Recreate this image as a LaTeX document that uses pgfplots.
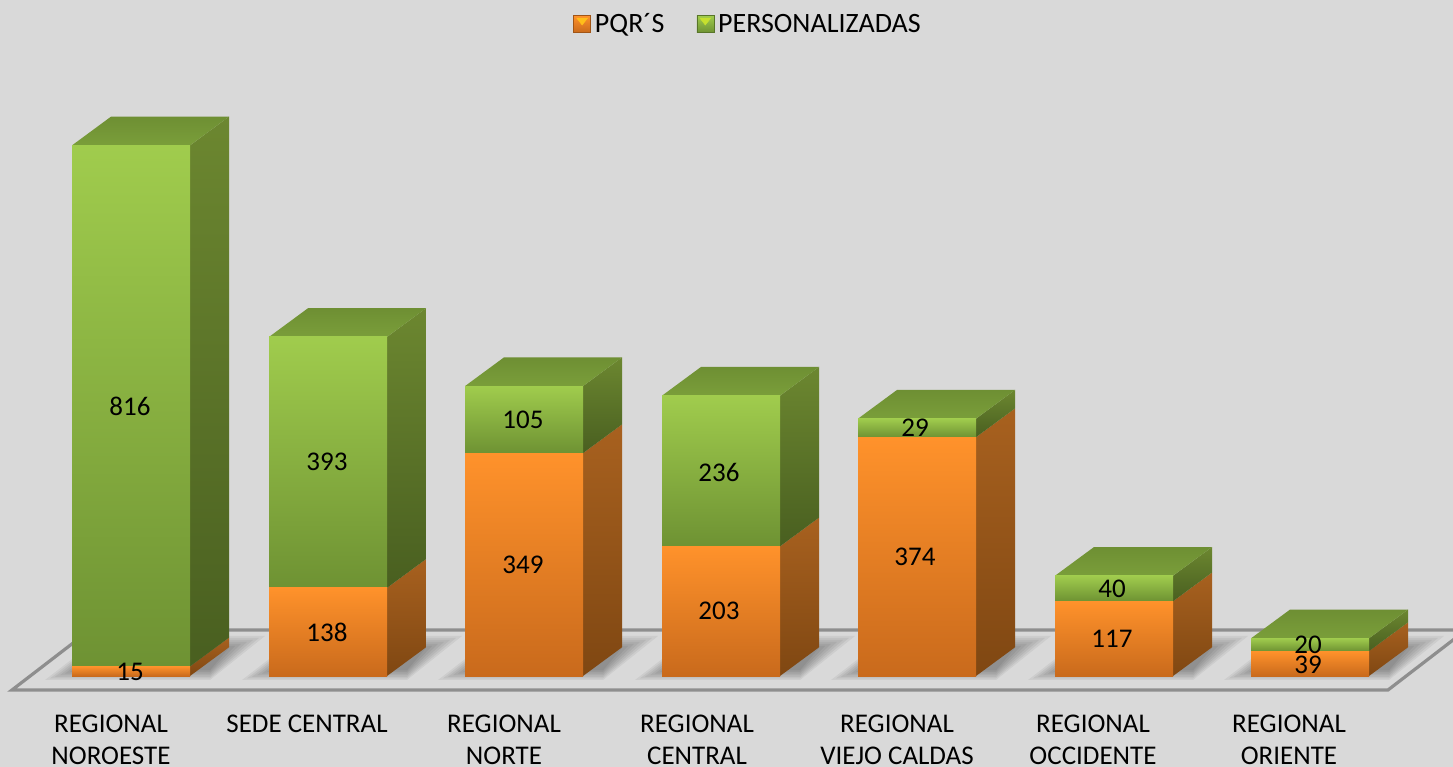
\documentclass[border=0pt]{standalone}
\usepackage{fontspec}
\setmainfont{Carlito}
\usepackage{pgfplots}
\pgfplotsset{compat=1.18}
\definecolor{bgc}{HTML}{D9D9D9}
\definecolor{floorc}{HTML}{8E8E8E}
\definecolor{gfT}{HTML}{A0CC4D}\definecolor{gfB}{HTML}{6E9233}
\definecolor{gsT}{HTML}{6C8730}\definecolor{gsB}{HTML}{495F20}
\definecolor{gtT}{HTML}{6E8F33}\definecolor{gtB}{HTML}{7A9E3A}
\definecolor{ofT}{HTML}{FF922B}\definecolor{ofB}{HTML}{C96A1C}
\definecolor{osT}{HTML}{A8611F}\definecolor{osB}{HTML}{7F4712}
\pgfplotsset{
  base/.style={
    at={(0pt,0pt)},anchor=south west,scale only axis,
    width=1453pt,height=767pt,
    xmin=0,xmax=1453,ymin=-142.5,ymax=1058.7,
    axis line style={draw=none},tick style={draw=none},
    xtick=\empty,ytick=\empty,
  },
}
\newcommand{\sides}[8]{%
  % R, B, L, LB, orange top, orange top+depth, total, total+depth
  \addplot[draw=none,top color=osT,bottom color=osB] coordinates {(#1,0) (#2,45) (#2,#6) (#1,#5)} --cycle;
  \addplot[draw=none,top color=gsT,bottom color=gsB] coordinates {(#1,#5) (#2,#6) (#2,#8) (#1,#7)} --cycle;
  \addplot[draw=none,top color=gtT,bottom color=gtB] coordinates {(#3,#7) (#1,#7) (#2,#8) (#4,#8)} --cycle;
}
% one stacked bar per axis, so that each front face has its own gradient
\newcommand{\stackbar}[3]{%
  \begin{axis}[base,ybar stacked,bar width=118]
  \addplot[draw=none,top color=ofT,bottom color=ofB] coordinates {(#1,#2)};
  \addplot[draw=none,top color=gfT,bottom color=gfB] coordinates {(#1,#3)};
  \end{axis}
}
\newcommand{\legsq}[2]{%
  \fill[top color=#1,bottom color=#2,draw=#2!80!black,line width=.6pt] (0pt,-8.5pt) rectangle (17pt,8.5pt);
  \fill[#1!60!yellow] (3pt,6pt) -- (14pt,6pt) -- (8.5pt,-1pt) -- cycle;
}
\begin{document}
\begin{tikzpicture}
\path[use as bounding box,clip] (0pt,0pt) rectangle (1453pt,767pt);
\fill[bgc] (0pt,0pt) rectangle (1453pt,767pt);
% floor
\begin{axis}[base]
\addplot[draw=floorc,line width=3.2pt,fill=bgc,line join=miter] coordinates {(12,-21.9) (1388,-21.9) (1466,72) (90,72)} --cycle;
\end{axis}
% soft shadows on the floor
\begin{scope}[x=1pt,y=1pt]
\foreach \L in {72,269,465,662,858,1055,1251}{
  \foreach \k in {0,...,6}{
    \fill[black,opacity=.055] ({\L-27+\k*5},{87+\k*1.6}) -- ({\L+118+20},{87+\k*1.6}) -- ({\L+118+75-\k*6},{131-\k*2}) -- ({\L+30},{131-\k*2}) -- cycle;
  }
}
\end{scope}
% depth faces
\begin{axis}[base]
\sides{190}{229}{72}{111}{15}{60}{831}{876}
\sides{387}{426}{269}{308}{138}{183}{531}{576}
\sides{583}{622}{465}{504}{349}{394}{454}{499}
\sides{780}{819}{662}{701}{203}{248}{439}{484}
\sides{976}{1015}{858}{897}{374}{419}{403}{448}
\sides{1173}{1212}{1055}{1094}{117}{162}{157}{202}
\sides{1369}{1408}{1251}{1290}{39}{84}{59}{104}
\end{axis}
% front faces: PQR'S, PERSONALIZADAS
\stackbar{131}{15}{816}
\stackbar{328}{138}{393}
\stackbar{524}{349}{105}
\stackbar{721}{203}{236}
\stackbar{917}{374}{29}
\stackbar{1114}{117}{40}
\stackbar{1310}{39}{20}
% value labels, category names, legend
\begin{axis}[base,
  xtick={111,307,504,697,897,1093,1289},
  xticklabels={{REGIONAL\\NOROESTE},{SEDE CENTRAL},{REGIONAL\\NORTE},{REGIONAL\\CENTRAL},{REGIONAL\\VIEJO CALDAS},{REGIONAL\\OCCIDENTE},{REGIONAL\\ORIENTE}},
  xticklabel style={align=center,anchor=north,yshift=52pt,font=\fontsize{27}{32}\selectfont,inner sep=0pt},
  nodes near coords,point meta=explicit symbolic,
  every node near coord/.style={anchor=center,font=\fontsize{27}{30}\selectfont,inner sep=0pt},
  legend columns=2,
  legend style={at={(axis cs:749,1021)},anchor=center,draw=none,fill=none,font=\fontsize{28}{30}\selectfont,
    /tikz/every even column/.append style={column sep=28pt},
    nodes={inner xsep=4pt,inner ysep=0pt}},
]
\addplot[draw=none,mark=none,forget plot] table[meta=t] {
x y t
130 6.3 15
130 422.9 816
327 68.9 138
327 335.2 393
523 173.8 349
523 400.9 105
719 101.8 203
719 319.5 236
915 186.4 374
915 388.4 29
1112 57.9 117
1112 136.3 40
1308 17.2 39
1308 48.6 20
};
\addlegendimage{legend image code/.code={\legsq{ofT}{ofB}}}
\addlegendentry{PQR´S}
\addlegendimage{legend image code/.code={\legsq{gfT}{gfB}}}
\addlegendentry{PERSONALIZADAS}
\end{axis}
\end{tikzpicture}
\end{document}
